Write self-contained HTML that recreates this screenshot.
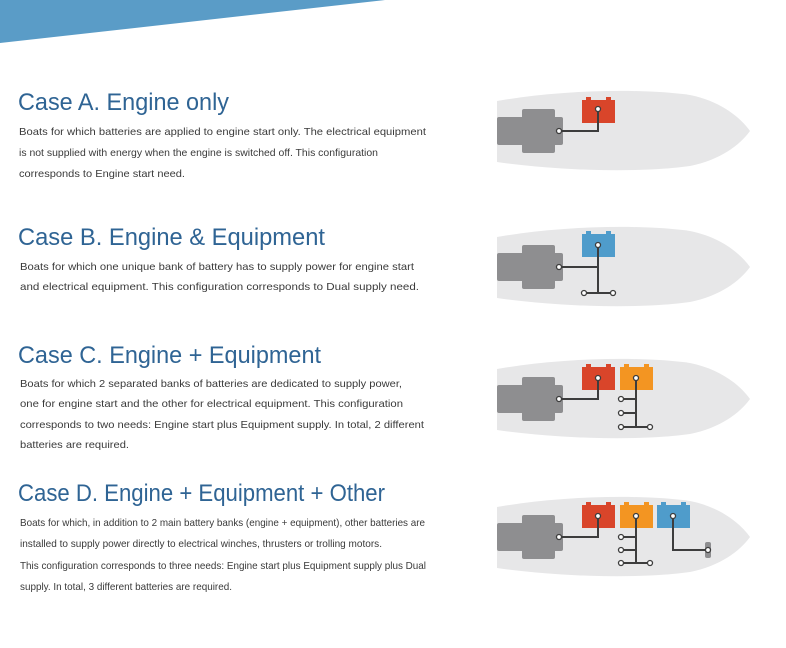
<!DOCTYPE html>
<html><head><meta charset="utf-8"><style>
html,body{margin:0;padding:0;background:#fff;width:786px;height:648px;overflow:hidden}
svg{display:block}
.t{font-family:"Liberation Sans",sans-serif;font-size:24px;fill:#2f6494}
.b{font-family:"Liberation Sans",sans-serif;font-size:10.5px;fill:#3a3a3a}
.w{stroke:#3d3d3d;stroke-width:2;fill:none}
.c{fill:#fff;stroke:#3d3d3d;stroke-width:1.3}
</style></head><body>
<svg width="786" height="648" viewBox="0 0 786 648">
<polygon points="0,0 385,0 0,43" fill="#5a9cc7"/>
<defs>
<g id="boat">
<path d="M497,101 C560,90 640,88 690,95 C720,101 740,117 750,131 C740,145 720,160 690,166 C640,173 560,171 497,162 Z" fill="#e7e7e8"/>
<rect x="497" y="117" width="66" height="28" rx="2" fill="#8e8e90"/>
<rect x="522" y="109" width="33" height="44" rx="2" fill="#8e8e90"/>
</g>
<g id="bat"><rect x="0" y="0" width="33" height="23" fill="currentColor"/><rect x="4" y="-3" width="5" height="3" fill="currentColor"/><rect x="24" y="-3" width="5" height="3" fill="currentColor"/></g>
</defs>

<!-- A -->
<use href="#boat"/>
<use href="#bat" x="582" y="100" style="color:#d9452a"/>
<path class="w" d="M559,131 H598 V109"/>
<circle class="c" cx="559" cy="131" r="2.5"/><circle class="c" cx="598" cy="109" r="2.5"/>

<!-- B -->
<g transform="translate(0,136)">
<use href="#boat"/>
<use href="#bat" x="582" y="98" style="color:#4f9ccb"/>
<path class="w" d="M559,131 H598 M598,109 V157 M584,157 H613"/>
<circle class="c" cx="559" cy="131" r="2.5"/><circle class="c" cx="598" cy="109" r="2.5"/>
<circle class="c" cx="584" cy="157" r="2.5"/><circle class="c" cx="613" cy="157" r="2.5"/>
</g>

<!-- C -->
<g transform="translate(0,268)">
<use href="#boat"/>
<use href="#bat" x="582" y="99" style="color:#d9452a"/>
<use href="#bat" x="620" y="99" style="color:#f39522"/>
<path class="w" d="M559,131 H598 V110 M636,110 V159 M621,131 H636 M621,145 H636 M621,159 H650"/>
<circle class="c" cx="559" cy="131" r="2.5"/><circle class="c" cx="598" cy="110" r="2.5"/><circle class="c" cx="636" cy="110" r="2.5"/>
<circle class="c" cx="621" cy="131" r="2.5"/><circle class="c" cx="621" cy="145" r="2.5"/><circle class="c" cx="621" cy="159" r="2.5"/><circle class="c" cx="650" cy="159" r="2.5"/>
</g>

<!-- D -->
<g transform="translate(0,406)">
<use href="#boat"/>
<use href="#bat" x="582" y="99" style="color:#d9452a"/>
<use href="#bat" x="620" y="99" style="color:#f39522"/>
<use href="#bat" x="657" y="99" style="color:#4f9ccb"/>
<path class="w" d="M559,131 H598 V110 M636,110 V157 M621,131 H636 M621,144 H636 M621,157 H650 M673,110 V144 H708"/>
<rect x="705" y="136" width="6" height="16" rx="2" fill="#8e8e90"/>
<circle class="c" cx="559" cy="131" r="2.5"/><circle class="c" cx="598" cy="110" r="2.5"/><circle class="c" cx="636" cy="110" r="2.5"/><circle class="c" cx="673" cy="110" r="2.5"/>
<circle class="c" cx="621" cy="131" r="2.5"/><circle class="c" cx="621" cy="144" r="2.5"/><circle class="c" cx="621" cy="157" r="2.5"/><circle class="c" cx="650" cy="157" r="2.5"/><circle class="c" cx="708" cy="144" r="2.5"/>
</g>

<text class="t" x="18" y="110" textLength="211" lengthAdjust="spacingAndGlyphs">Case A. Engine only</text>
<text class="b" x="19" y="135" textLength="407" lengthAdjust="spacingAndGlyphs">Boats for which batteries are applied to engine start only. The electrical equipment</text>
<text class="b" x="19" y="156" textLength="359" lengthAdjust="spacingAndGlyphs">is not supplied with energy when the engine is switched off. This configuration</text>
<text class="b" x="19" y="177" textLength="166" lengthAdjust="spacingAndGlyphs">corresponds to Engine start need.</text>

<text class="t" x="18" y="245" textLength="307" lengthAdjust="spacingAndGlyphs">Case B. Engine &amp; Equipment</text>
<text class="b" x="20" y="270" textLength="394" lengthAdjust="spacingAndGlyphs">Boats for which one unique bank of battery has to supply power for engine start</text>
<text class="b" x="20" y="290" textLength="399" lengthAdjust="spacingAndGlyphs">and electrical equipment. This configuration corresponds to Dual supply need.</text>

<text class="t" x="18" y="363" textLength="303" lengthAdjust="spacingAndGlyphs">Case C. Engine + Equipment</text>
<text class="b" x="20" y="387" textLength="382" lengthAdjust="spacingAndGlyphs">Boats for which 2 separated banks of batteries are dedicated to supply power,</text>
<text class="b" x="20" y="407" textLength="383" lengthAdjust="spacingAndGlyphs">one for engine start and the other for electrical equipment. This configuration</text>
<text class="b" x="20" y="428" textLength="404" lengthAdjust="spacingAndGlyphs">corresponds to two needs: Engine start plus Equipment supply. In total, 2 different</text>
<text class="b" x="20" y="448" textLength="109" lengthAdjust="spacingAndGlyphs">batteries are required.</text>

<text class="t" x="18" y="501" textLength="367" lengthAdjust="spacingAndGlyphs">Case D. Engine + Equipment + Other</text>
<text class="b" x="20" y="526" textLength="405" lengthAdjust="spacingAndGlyphs">Boats for which, in addition to 2 main battery banks (engine + equipment), other batteries are</text>
<text class="b" x="20" y="547" textLength="362" lengthAdjust="spacingAndGlyphs">installed to supply power directly to electrical winches, thrusters or trolling motors.</text>
<text class="b" x="20" y="569" textLength="406" lengthAdjust="spacingAndGlyphs">This configuration corresponds to three needs: Engine start plus Equipment supply plus Dual</text>
<text class="b" x="20" y="590" textLength="212" lengthAdjust="spacingAndGlyphs">supply. In total, 3 different batteries are required.</text>
</svg>
</body></html>
